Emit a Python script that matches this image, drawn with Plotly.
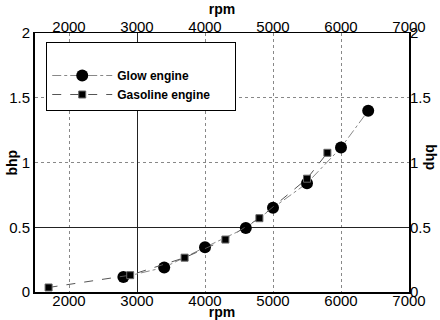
import plotly.graph_objects as go

glow_rpm = [2800, 3400, 4000, 4600, 5000, 5500, 6000, 6400]
glow_bhp = [0.115, 0.19, 0.345, 0.495, 0.65, 0.84, 1.115, 1.40]
gas_rpm = [1700, 2900, 3700, 4300, 4800, 5500, 5800]
gas_bhp = [0.035, 0.13, 0.265, 0.405, 0.57, 0.875, 1.075]

x_ticks = [2000, 3000, 4000, 5000, 6000, 7000]
y_ticks = [0, 0.5, 1, 1.5, 2]
x_solid = [3000]
y_solid = [0.5]

FONT = "Liberation Sans, Arial, sans-serif"

fig = go.Figure()
fig.add_trace(go.Scatter(
    x=glow_rpm, y=glow_bhp, name="Glow engine", mode="lines+markers",
    line=dict(color="#888888", width=1, dash="dashdot"),
    marker=dict(symbol="circle", size=12, color="black"),
))
fig.add_trace(go.Scatter(
    x=gas_rpm, y=gas_bhp, name="Gasoline engine      ", mode="lines+markers",
    line=dict(color="#555555", width=1, dash="dash"),
    marker=dict(symbol="square", size=7, color="black",
                line=dict(color="#666666", width=1)),
))
# invisible traces to activate top/right and extra grid axes
fig.add_trace(go.Scatter(x=[None], y=[None], xaxis="x2", yaxis="y2",
                         showlegend=False, hoverinfo="skip"))
fig.add_trace(go.Scatter(x=[None], y=[None], xaxis="x3", yaxis="y3",
                         showlegend=False, hoverinfo="skip"))

tickfont = dict(family=FONT, size=15, color="black")
titlefont = dict(family=FONT, size=14, color="black", weight="bold")

common_x = dict(range=[1500, 7000], tickvals=x_ticks, tickfont=tickfont,
                ticks="", ticklen=0, zeroline=False, automargin=False)
common_y = dict(range=[0, 2], tickvals=y_ticks, tickfont=tickfont,
                ticks="", ticklen=0, zeroline=False, automargin=False)

fig.update_layout(
    width=440, height=320,
    margin=dict(l=35, r=31, t=33, b=28),
    paper_bgcolor="white", plot_bgcolor="white",
    font=dict(family=FONT, color="black"),
    xaxis=dict(**common_x, showgrid=True, gridcolor="#888888", griddash="dot",
               gridwidth=1, showline=True, linecolor="black", linewidth=2,
               ticklabelstandoff=-6,
               title=dict(text="rpm", font=titlefont, standoff=0)),
    xaxis2=dict(**common_x, overlaying="x", side="top", showgrid=False,
                showline=True, linecolor="black", linewidth=1, anchor="y",
                ticklabelstandoff=-6,
                title=dict(text="rpm", font=titlefont, standoff=0)),
    xaxis3=dict(range=[1500, 7000], tickvals=x_solid, showticklabels=False,
                overlaying="x", showgrid=True, gridcolor="#222222", gridwidth=1,
                ticks="", zeroline=False, showline=False, automargin=False),
    yaxis=dict(**common_y, showgrid=True, gridcolor="#888888", griddash="dot",
               gridwidth=1, showline=True, linecolor="black", linewidth=2),
    yaxis2=dict(**common_y, overlaying="y", side="right", showgrid=False,
                showline=True, linecolor="black", linewidth=2, anchor="x",
                ticklabelstandoff=-4),
    yaxis3=dict(range=[0, 2], tickvals=y_solid, showticklabels=False,
                overlaying="y", showgrid=True, gridcolor="#222222", gridwidth=1,
                ticks="", zeroline=False, showline=False, automargin=False),
    legend=dict(x=0.03, y=0.966, xanchor="left", yanchor="top",
                bgcolor="white", bordercolor="black", borderwidth=1,
                itemwidth=60,
                title=dict(text=" ", font=dict(size=14)),
                font=dict(family=FONT, size=12, color="black", weight="bold"),
                tracegroupgap=0),
    annotations=[
        dict(text="bhp", xref="paper", yref="paper", x=0.0, y=0.5,
             xanchor="right", yanchor="middle", xshift=-14,
             textangle=-90, showarrow=False, font=titlefont),
        dict(text="bhp", xref="paper", yref="paper", x=1.0, y=0.52,
             xanchor="left", yanchor="middle", xshift=12,
             textangle=90, showarrow=False, font=titlefont),
    ],
    showlegend=True,
)

fig.write_html("out.html", config={"displayModeBar": False},
               post_script="document.body.style.margin='0';")
